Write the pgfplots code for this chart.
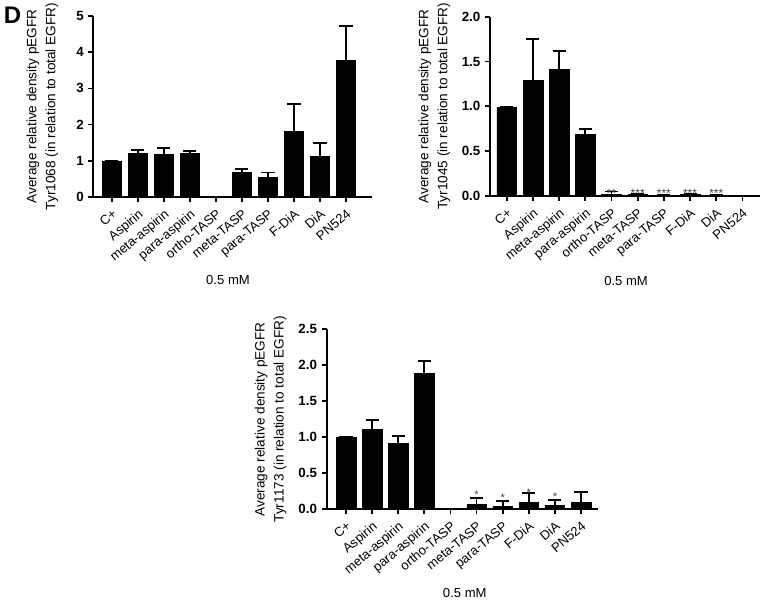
\documentclass[border=0pt]{standalone}
\usepackage{fontspec}
\setmainfont{Liberation Sans}
\usepackage{pgfplots}
\pgfplotsset{compat=1.18}
\tikzset{sigstar/.style={anchor=base, font=\fontsize{#1}{10}\selectfont, text=black!75, inner sep=0pt}}
\pgfplotsset{
  gp/.style={
    scale only axis,
    axis lines=left,
    axis line style={line width=1.5pt, -},
    tick style={line width=1.3pt, black},
    major tick length=3.75pt,
    tick align=outside,
    ybar, bar width=0.75,
    xtick={0,...,9},
    xticklabels={C+,Aspirin,meta-aspirin,para-aspirin,ortho-TASP,meta-TASP,para-TASP,F-DiA,DiA,PN524},
    xticklabel style={rotate=40, anchor=north east, font=\fontsize{9.8}{11}\selectfont, inner sep=1.5pt},
    xticklabel shift=2.5pt,
    yticklabel style={font=\fontsize{10}{12}\selectfont\bfseries},
    /pgf/number format/assume math mode=true,
    ylabel style={align=center, font=\fontsize{10.2}{14.25}\selectfont, anchor=south, rotate=0},
    xlabel style={font=\fontsize{9.8}{12}\selectfont, anchor=center},
    ymin=0,
    clip=false,
  },
  gpbar/.style={fill=black, draw=black, line width=0.4pt,
    error bars/.cd, y dir=plus, y explicit,
    error bar style={line width=1.3pt, black},
    error mark options={rotate=90, line width=1.3pt, black, mark size=4.9pt}},
}
\begin{document}
\begin{tikzpicture}
\path[use as bounding box] (0,0) rectangle (573.75pt,451.5pt);
\node[font=\fontsize{18}{20}\selectfont\bfseries, anchor=center] at (9.4pt,440pt) {D};

% Chart 1: Tyr1068
\begin{axis}[gp, at={(70.1pt,303.75pt)}, anchor=south west,
  width=208.9pt, height=135.75pt,
  xmin=-0.71, xmax=10.0, ymax=5, ytick={0,...,5},
  ylabel={Average relative density pEGFR\\Tyr1068 (in relation to total EGFR)},
  ylabel style={at={(axis description cs:-0.110,0.5)}},
  xlabel={0.5 mM},
  xlabel style={at={(axis description cs:0.483,0)}, yshift=-62.25pt}]
\addplot[gpbar] table[x=x, y=y, y error=e] {
x y e
0 1.00 0
1 1.21 0.09
2 1.18 0.17
3 1.21 0.07
4 0 0
5 0.69 0.09
6 0.55 0.13
7 1.82 0.74
8 1.13 0.36
9 3.77 0.96
};
\end{axis}

% Chart 2: Tyr1045
\begin{axis}[gp, at={(367.5pt,304.5pt)}, anchor=south west,
  width=202.5pt, height=134.5pt,
  xmin=-0.64, xmax=9.67, ymax=2, ytick={0,0.5,...,2},
  yticklabel style={/pgf/number format/.cd, fixed, fixed zerofill, precision=1},
  ylabel={Average relative density pEGFR\\Tyr1045 (in relation to total EGFR)},
  ylabel style={at={(axis description cs:-0.130,0.5)}},
  xlabel={0.5 mM},
  xlabel style={at={(axis description cs:0.504,0)}, yshift=-63.5pt}]
\addplot[gpbar] table[x=x, y=y, y error=e] {
x y e
0 0.99 0
1 1.29 0.46
2 1.41 0.21
3 0.69 0.06
4 0.02 0.03
5 0.015 0.005
6 0.01 0.005
7 0.02 0.005
8 0.01 0.005
9 0 0
};
\node[sigstar=9] at (axis cs:4,-0.02) {**};
\node[sigstar=9] at (axis cs:5,-0.02) {***};
\node[sigstar=9] at (axis cs:6,-0.02) {***};
\node[sigstar=9] at (axis cs:7,-0.02) {***};
\node[sigstar=9] at (axis cs:8,-0.02) {***};
\end{axis}

% Chart 3: Tyr1173
\begin{axis}[gp, at={(245pt,69.5pt)}, anchor=south west,
  width=203.5pt, height=135pt,
  xmin=-0.74, xmax=9.65, ymax=2.5, ytick={0,0.5,...,2.5},
  yticklabel style={/pgf/number format/.cd, fixed, fixed zerofill, precision=1},
  ylabel={Average relative density pEGFR\\Tyr1173 (in relation to total EGFR)},
  ylabel style={at={(axis description cs:-0.131,0.5)}},
  xlabel={0.5 mM},
  xlabel style={at={(axis description cs:0.509,0)}, yshift=-63pt}]
\addplot[gpbar] table[x=x, y=y, y error=e] {
x y e
0 1.00 0
1 1.11 0.13
2 0.92 0.10
3 1.89 0.17
4 0 0
5 0.07 0.085
6 0.046 0.074
7 0.097 0.133
8 0.055 0.075
9 0.10 0.136
};
\node[sigstar=8.3] at (axis cs:5,0.145) {*};
\node[sigstar=8.3] at (axis cs:6,0.111) {*};
\node[sigstar=8.3] at (axis cs:7,0.18) {*};
\node[sigstar=8.3] at (axis cs:8,0.12) {*};
\end{axis}
\end{tikzpicture}
\end{document}
